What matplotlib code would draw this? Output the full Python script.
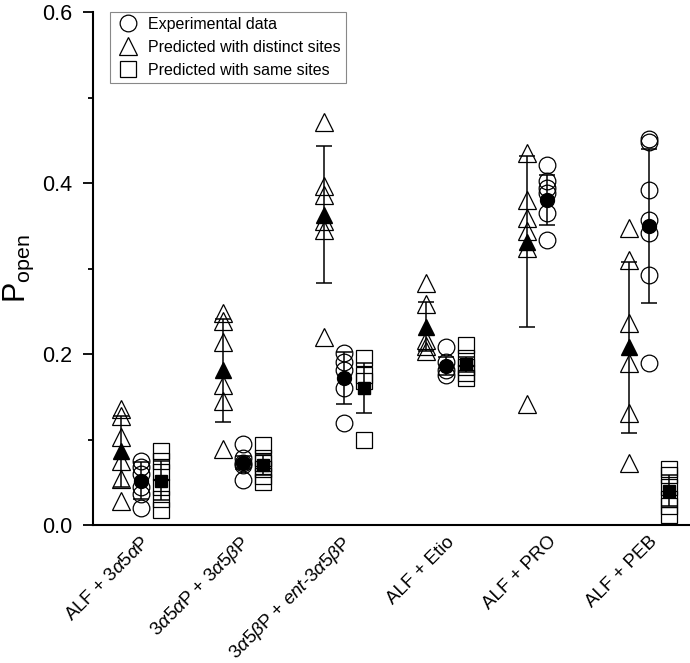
import matplotlib
matplotlib.use("Agg")
import matplotlib.pyplot as plt
import matplotlib.transforms as mtransforms
from matplotlib.lines import Line2D
import numpy as np

plt.rcParams['font.family'] = ['Liberation Sans', 'DejaVu Sans']
plt.rcParams['mathtext.fontset'] = 'custom'
plt.rcParams['mathtext.rm'] = 'Liberation Sans'
plt.rcParams['mathtext.it'] = 'Liberation Sans:italic'
plt.rcParams['mathtext.bf'] = 'Liberation Sans:bold'

categories = [r'ALF + 3$\alpha$5$\alpha$P',
              r'3$\alpha$5$\alpha$P + 3$\alpha$5$\beta$P',
              r'3$\alpha$5$\beta$P + $\mathit{ent}$-3$\alpha$5$\beta$P',
              'ALF + Etio', 'ALF + PRO', 'ALF + PEB']

# Predicted with distinct sites (triangles)
distinct_pts = [
    [0.136, 0.127, 0.103, 0.075, 0.054, 0.028],
    [0.248, 0.239, 0.214, 0.164, 0.145, 0.089],
    [0.471, 0.397, 0.386, 0.355, 0.345, 0.220],
    [0.283, 0.258, 0.216, 0.209, 0.203],
    [0.435, 0.380, 0.359, 0.344, 0.324, 0.141],
    [0.347, 0.310, 0.236, 0.189, 0.131, 0.073],
]
distinct_mean = [0.086, 0.181, 0.363, 0.232, 0.331, 0.208]
distinct_sd = [0.042, 0.060, 0.080, 0.029, 0.100, 0.100]

# Experimental data (circles)
exp_pts = [
    [0.075, 0.068, 0.060, 0.044, 0.036, 0.020],
    [0.095, 0.078, 0.073, 0.070, 0.053],
    [0.201, 0.191, 0.181, 0.160, 0.119],
    [0.208, 0.191, 0.181, 0.175],
    [0.421, 0.402, 0.394, 0.388, 0.365, 0.333],
    [0.452, 0.448, 0.392, 0.357, 0.341, 0.292, 0.189],
]
exp_mean = [0.052, 0.073, 0.172, 0.186, 0.380, 0.350]
exp_sd = [0.022, 0.008, 0.030, 0.011, 0.029, 0.090]

# Predicted with same sites (squares)
same_pts = [
    [0.087, 0.075, 0.062, 0.045, 0.030, 0.018],
    [0.093, 0.078, 0.072, 0.065, 0.057, 0.050],
    [0.195, 0.176, 0.168, 0.100],
    [0.210, 0.195, 0.185, 0.178, 0.172],
    [],
    [0.066, 0.058, 0.045, 0.030, 0.022, 0.012],
]
same_mean = [0.052, 0.070, 0.160, 0.188, np.nan, 0.040]
same_sd = [0.023, 0.012, 0.029, 0.009, np.nan, 0.018]

fig = plt.figure(figsize=(6.9, 6.63), dpi=100)
ax = fig.add_axes([93/690, 138/663, 597/690, 513/663])

offsets = {'tri': -0.197, 'circ': 0.0, 'sq': 0.197}
series = [
    ('tri', '^', 13.5, 11.0, distinct_pts, distinct_mean, distinct_sd),
    ('circ', 'o', 12.0, 10.0, exp_pts, exp_mean, exp_sd),
    ('sq', 's', 11.0, 9.0, same_pts, same_mean, same_sd),
]

for key, mk, ms, msf, pts, means, sds in series:
    off = offsets[key]
    for i, vals in enumerate(pts):
        x = np.full(len(vals), i + 1 + off)
        ax.plot(x, vals, linestyle='none', marker=mk, markersize=ms,
                markerfacecolor='none', markeredgecolor='black',
                markeredgewidth=0.9, zorder=2)
    xs = np.arange(1, len(means) + 1) + off
    ax.errorbar(xs, means, yerr=sds, fmt=mk, color='black', markersize=msf,
                markerfacecolor='black', markeredgecolor='black',
                ecolor='black', elinewidth=1.1, capsize=5.5, capthick=1.1,
                zorder=3)

ax.set_xlim(0.528, 6.404)
ax.set_ylim(0.0, 0.6)
ax.set_yticks([0.0, 0.2, 0.4, 0.6])
ax.set_yticks([0.1, 0.3, 0.5], minor=True)
ax.set_yticklabels(['0.0', '0.2', '0.4', '0.6'])
ax.tick_params(axis='y', which='major', length=7, width=1.3, labelsize=15.5,
               direction='out', pad=8)
ax.tick_params(axis='y', which='minor', length=3.5, width=1.3, direction='out')

ax.set_xticks(np.arange(1, len(categories) + 1))
ax.set_xticklabels(categories, rotation=45, ha='right', fontsize=13.5)
ax.tick_params(axis='x', length=0, pad=6)
offset = mtransforms.ScaledTranslation(12/100, 0, fig.dpi_scale_trans)
for lbl in ax.get_xticklabels():
    lbl.set_transform(lbl.get_transform() + offset)

for s in ['top', 'right']:
    ax.spines[s].set_visible(False)
for s in ['left', 'bottom']:
    ax.spines[s].set_linewidth(1.5)

ax.set_ylabel(r'P$_{\mathrm{open}}$', fontsize=22, labelpad=4)

handles = [
    Line2D([], [], linestyle='none', marker='o', markersize=12,
           markerfacecolor='none', markeredgecolor='black', markeredgewidth=0.9),
    Line2D([], [], linestyle='none', marker='^', markersize=13.5,
           markerfacecolor='none', markeredgecolor='black', markeredgewidth=0.9),
    Line2D([], [], linestyle='none', marker='s', markersize=11,
           markerfacecolor='none', markeredgecolor='black', markeredgewidth=0.9),
]
labels = ['Experimental data', 'Predicted with distinct sites',
          'Predicted with same sites']
leg = ax.legend(handles, labels, loc='upper left',
                bbox_to_anchor=(17/597, 1.0), fontsize=11.5, frameon=True,
                fancybox=False, edgecolor='#888888', framealpha=1,
                borderpad=0.3, labelspacing=0.5, handletextpad=0.5,
                handlelength=1.6, borderaxespad=0.0)
leg.get_frame().set_linewidth(0.8)

fig.savefig('out.png', dpi=100)
